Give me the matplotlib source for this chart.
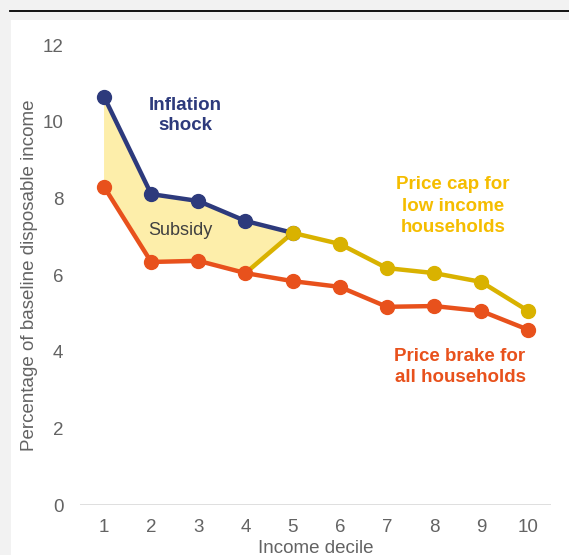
import matplotlib.pyplot as plt
import numpy as np

plt.rcParams['font.family'] = ['Liberation Sans', 'DejaVu Sans']

deciles = [1, 2, 3, 4, 5, 6, 7, 8, 9, 10]
inflation_shock = [10.65, 8.11, 7.93, 7.41, 7.10]
price_brake = [8.30, 6.34, 6.37, 6.05, 5.84, 5.69, 5.17, 5.19, 5.06, 4.57]
price_cap = [6.05, 7.10, 6.81, 6.18, 6.05, 5.82, 5.06]
cap_deciles = deciles[3:]
shock_deciles = deciles[:5]
yticks = [0, 2, 4, 6, 8, 10, 12]

blue = '#2d3a7c'
orange = '#e8511c'
yellow = '#d9b200'
fill_col = '#fdeeaa'
grey = '#636363'

fig = plt.figure(figsize=(5.69, 5.55), dpi=100)
fig.patch.set_facecolor('#f2f2f2')

# white panel and rule line at top
fig.add_artist(plt.Rectangle((11 / 569, 0), 1, 1 - 20 / 555, transform=fig.transFigure,
                             facecolor='white', edgecolor='none', zorder=-5))
fig.add_artist(plt.Line2D([10 / 569, 1], [1 - 11 / 555, 1 - 11 / 555], transform=fig.transFigure,
                          color='black', lw=1.3))

ax = fig.add_axes([80 / 569, 50 / 555, 471 / 569, 460 / 555])
ax.set_facecolor('none')
ax.set_zorder(2)

# subsidy area: between shock line and the lower of brake/cap
poly_x = shock_deciles + [5, 4, 3, 2, 1]
poly_y = inflation_shock + [price_cap[1], price_brake[3], price_brake[2], price_brake[1], price_brake[0]]
ax.fill(poly_x, poly_y, color=fill_col, lw=0, zorder=1)

ax.plot(shock_deciles, inflation_shock, color=blue, lw=3.2, marker='o', ms=10, zorder=3)
ax.plot(deciles, price_brake, color=orange, lw=3.2, marker='o', ms=10, zorder=4)
ax.plot(cap_deciles[1:], price_cap[1:], color=yellow, lw=3.2, marker='o', ms=10, zorder=5)
ax.plot(cap_deciles[:2], price_cap[:2], color=yellow, lw=3.2, zorder=2)

ax.axhline(0, color='#d9d9d9', lw=1.2, zorder=0)

ax.set_xlim(0.49, 10.48)
ax.set_ylim(0, 12)
ax.set_xticks(deciles)
ax.set_yticks(yticks)
for s in ax.spines.values():
    s.set_visible(False)
ax.tick_params(length=0, labelsize=13.5, labelcolor=grey)
ax.tick_params(axis='y', pad=12)
ax.tick_params(axis='x', pad=10)

ax.set_xlabel('Income decile', fontsize=13.5, color=grey, labelpad=3)
ax.set_ylabel('Percentage of baseline disposable income', fontsize=13.5, color=grey, labelpad=3)

ax.text(2.72, 10.17, 'Inflation\nshock', color=blue, fontsize=13.5, fontweight='bold',
        ha='center', va='center', linespacing=1.25)
ax.text(2.61, 7.17, 'Subsidy', color='#404040', fontsize=13, ha='center', va='center')
ax.text(8.40, 7.80, 'Price cap for\nlow income\nhouseholds', color='#f5bd00', fontsize=13.5,
        fontweight='bold', ha='center', va='center', linespacing=1.32)
ax.text(8.55, 3.61, 'Price brake for\nall households', color=orange, fontsize=13.5,
        fontweight='bold', ha='center', va='center', linespacing=1.32)

fig.savefig('out.png', dpi=100, facecolor=fig.get_facecolor())
